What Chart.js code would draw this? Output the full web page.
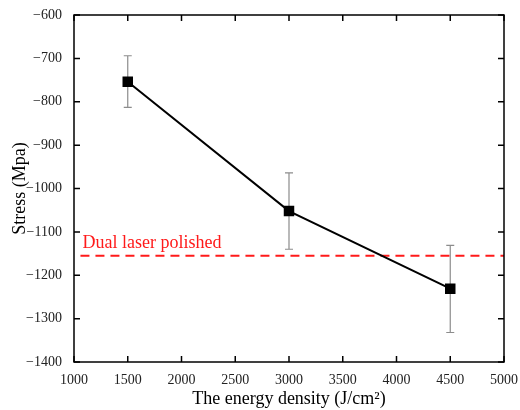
<!DOCTYPE html>
<html>
<head>
<meta charset="utf-8">
<script src="https://cdn.jsdelivr.net/npm/chart.js@4.4.0/dist/chart.umd.min.js"></script>
<style>
  html, body { margin: 0; padding: 0; background: #fff; }
  #wrap { width: 520px; height: 410px; }
</style>
</head>
<body>
<div id="wrap"><canvas id="myChart" width="520" height="410"></canvas></div>
<script>
// data
var energy = [1500, 3000, 4500];
var stress = [-754, -1052, -1231];
var errLow = [-813, -1140, -1332];
var errHigh = [-694, -964, -1131];
var refValue = -1155;
var refLabel = 'Dual laser polished';
var refSpan = [1060, 5000];

var serif = "'Liberation Serif', 'Times New Roman', serif";

function minus(v) {
    return v < 0 ? '\u2212' + Math.abs(v) : '' + v;
}

// error bars under the markers
var errorBars = {
    id: 'errorBars',
    beforeDatasetsDraw: function(chart) {
        var ctx = chart.ctx, x = chart.scales.x, y = chart.scales.y;
        ctx.save();
        ctx.strokeStyle = '#8c8c8c';
        ctx.lineWidth = 1.2;
        for (let i = 0; i < energy.length; i++) {
            let px = x.getPixelForValue(energy[i]);
            let y1 = y.getPixelForValue(errLow[i]);
            let y2 = y.getPixelForValue(errHigh[i]);
            ctx.beginPath();
            ctx.moveTo(px, y1); ctx.lineTo(px, y2);
            ctx.moveTo(px - 4, y1); ctx.lineTo(px + 4, y1);
            ctx.moveTo(px - 4, y2); ctx.lineTo(px + 4, y2);
            ctx.stroke();
        }
        ctx.restore();
    },
    afterDatasetsDraw: function(chart) {
        var ctx = chart.ctx, a = chart.chartArea, x = chart.scales.x, y = chart.scales.y;
        ctx.save();
        // label for the reference line
        ctx.fillStyle = '#ff1a1a';
        ctx.font = '18px ' + serif;
        ctx.textBaseline = 'alphabetic';
        ctx.fillText(refLabel, x.getPixelForValue(1080), y.getPixelForValue(refValue) - 8);
        // frame and inward ticks on all four sides
        ctx.strokeStyle = '#000';
        ctx.lineWidth = 1.5;
        ctx.strokeRect(a.left, a.top, a.right - a.left, a.bottom - a.top);
        ctx.beginPath();
        x.ticks.forEach(function(t) {
            let px = x.getPixelForValue(t.value);
            ctx.moveTo(px, a.bottom); ctx.lineTo(px, a.bottom - 6);
            ctx.moveTo(px, a.top); ctx.lineTo(px, a.top + 6);
        });
        y.ticks.forEach(function(t) {
            let py = y.getPixelForValue(t.value);
            ctx.moveTo(a.left, py); ctx.lineTo(a.left + 6, py);
            ctx.moveTo(a.right, py); ctx.lineTo(a.right - 6, py);
        });
        ctx.stroke();
        ctx.restore();
    }
};

var ctx = document.getElementById('myChart').getContext('2d');
var myChart = new Chart(ctx, {
    type: 'scatter',
    data: {
        datasets: [{
            label: 'stress',
            data: energy.map(function(e, i) { return {x: e, y: stress[i]}; }),
            showLine: true,
            borderColor: '#000',
            borderWidth: 2,
            backgroundColor: '#000',
            pointStyle: 'rect',
            pointRadius: 6,
            pointHoverRadius: 6
        }, {
            label: refLabel,
            data: refSpan.map(function(e) { return {x: e, y: refValue}; }),
            showLine: true,
            borderColor: '#ff1a1a',
            borderWidth: 2,
            borderDash: [9, 6],
            pointRadius: 0
        }]
    },
    options: {
        responsive: false,
        animation: false,
        layout: { padding: { top: 15, right: 15, left: 9, bottom: 0 } },
        plugins: { legend: { display: false }, tooltip: { enabled: false } },
        scales: {
            x: {
                type: 'linear',
                min: 1000, max: 5000,
                grid: { display: false },
                border: { display: false },
                ticks: {
                    stepSize: 500,
                    color: '#222',
                    padding: 2,
                    font: { family: serif, size: 14 },
                    maxRotation: 0,
                    callback: function(v) { return '' + v; }
                },
                title: {
                    display: true,
                    text: 'The energy density (J/cm\u00b2)',
                    color: '#000',
                    font: { family: serif, size: 18 },
                    padding: { top: 3, bottom: 0 }
                },
                afterFit: function(s) { s.height = 48; }
            },
            y: {
                min: -1400, max: -600,
                grid: { display: false },
                border: { display: false },
                ticks: {
                    stepSize: 100,
                    color: '#222',
                    padding: 4,
                    font: { family: serif, size: 14 },
                    callback: function(v) { return minus(v); }
                },
                title: {
                    display: true,
                    text: 'Stress (Mpa)',
                    color: '#000',
                    font: { family: serif, size: 18 },
                    padding: { top: 0, bottom: 6 }
                },
                afterFit: function(s) { s.width = 65; }
            }
        }
    },
    plugins: [errorBars]
});
</script>
</body>
</html>
